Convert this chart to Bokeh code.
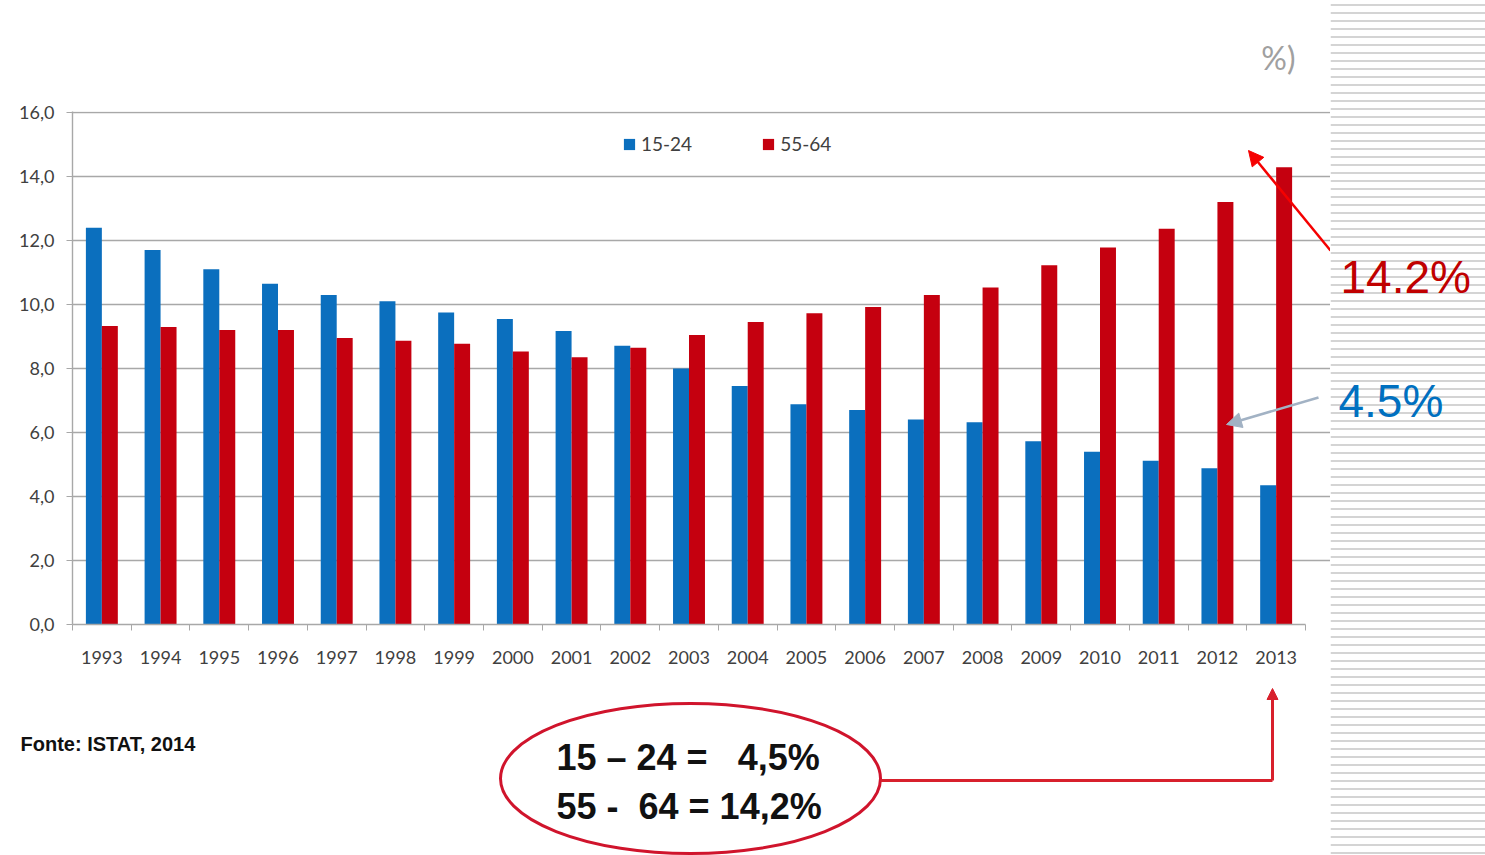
from bokeh.plotting import figure
from bokeh.models import (Range1d, FixedTicker, LinearAxis, Legend, LegendItem,
                          Label, Arrow, NormalHead, ColumnDataSource)
from bokeh.layouts import row, column
from bokeh.transform import dodge
from bokeh.embed import file_html
from bokeh.resources import INLINE

# ---------------- data ----------------
years = ["1993", "1994", "1995", "1996", "1997", "1998", "1999", "2000", "2001", "2002",
         "2003", "2004", "2005", "2006", "2007", "2008", "2009", "2010", "2011", "2012", "2013"]
age_15_24 = [12.4, 11.7, 11.1, 10.65, 10.3, 10.1, 9.75, 9.55, 9.17, 8.71,
             8.0, 7.45, 6.88, 6.7, 6.41, 6.32, 5.73, 5.4, 5.12, 4.88, 4.35]
age_55_64 = [9.33, 9.3, 9.2, 9.2, 8.95, 8.87, 8.77, 8.53, 8.35, 8.65,
             9.05, 9.45, 9.73, 9.92, 10.3, 10.53, 11.23, 11.78, 12.37, 13.2, 14.29]
series_labels = ["15-24", "55-64"]
y_ticks = [0, 2, 4, 6, 8, 10, 12, 14, 16]
y_tick_labels = ["0,0", "2,0", "4,0", "6,0", "8,0", "10,0", "12,0", "14,0", "16,0"]
source_text = "Fonte: ISTAT, 2014"
box_lines = ["15 \u2013 24 =\u00a0\u00a0 4,5%", "55 -\u00a0 64 = 14,2%"]
callout_red = "14.2%"
callout_blue = "4.5%"
corner_text = "%)"

BLUE = "#0b6fbe"
RED = "#c5000f"
GRID = "#a8a8a8"
TXT = "#404040"
AXFONT = "Lato"
SANS = "Liberation Sans"
STRIPE = "#d4d4d4"

# page geometry (pixels)
W, H = 1485, 855
TOP_H = 680
FRAME_L, FRAME_R_DATA, FRAME_R, STRIPE_L = 72, 1305, 1330, 1330
FRAME_T, FRAME_B = 111, 624
band = (FRAME_R_DATA - FRAME_L) / len(years)
x_end = len(years) - 0.5 + (FRAME_R - FRAME_R_DATA) / band

# ---------------- main chart ----------------
p = figure(width=STRIPE_L, height=TOP_H,
           x_range=Range1d(-0.5, x_end), y_range=Range1d(0, 16 + 1 / 32),
           output_backend="svg", toolbar_location=None, x_axis_location=None,
           min_border_left=FRAME_L, min_border_right=STRIPE_L - FRAME_R,
           min_border_top=FRAME_T, min_border_bottom=TOP_H - FRAME_B)
p.outline_line_color = None
p.extra_x_ranges = {"px": Range1d(FRAME_L, FRAME_R)}
p.extra_y_ranges = {"py": Range1d(FRAME_B, FRAME_T)}

src = ColumnDataSource(dict(i=list(range(len(years))), a=age_15_24, b=age_55_64))
w = 0.272
rb = p.vbar(x=dodge("i", -w / 2), top="a", width=w, source=src, fill_color=BLUE, line_color=None)
rr = p.vbar(x=dodge("i", w / 2), top="b", width=w, source=src, fill_color=RED, line_color=None)

# y axis
ya = p.yaxis[0]
ya.ticker = FixedTicker(ticks=y_ticks)
ya.major_label_overrides = {t: l for t, l in zip(y_ticks, y_tick_labels)}
ya.axis_line_color = GRID
ya.axis_line_width = 1.4
ya.major_tick_line_color = GRID
ya.major_tick_out = 6
ya.major_tick_in = 0
ya.minor_tick_line_color = None
ya.major_label_standoff = 12
ya.major_label_text_font = AXFONT
ya.major_label_text_font_size = "18px"
ya.major_label_text_color = TXT

for g in p.grid:
    if g.dimension == 0:
        g.visible = False
    else:
        g.grid_line_color = GRID
        g.grid_line_width = 1.4
        g.bounds = (-0.5, len(years) - 0.5)

# x axis: labels at category centres, ticks at boundaries
xa = LinearAxis(ticker=FixedTicker(ticks=list(range(len(years))),
                                   minor_ticks=[k - 0.5 for k in range(len(years) + 1)]),
                bounds=(-0.5, len(years) - 0.5))
xa.major_label_overrides = {k: y for k, y in enumerate(years)}
xa.major_tick_line_color = None
xa.major_tick_out = 0
xa.major_tick_in = 0
xa.minor_tick_out = 6
xa.minor_tick_in = 0
xa.minor_tick_line_color = GRID
xa.axis_line_color = GRID
xa.axis_line_width = 1.4
xa.major_label_standoff = 20
xa.major_label_text_font = AXFONT
xa.major_label_text_font_size = "18px"
xa.major_label_text_color = TXT
p.add_layout(xa, "below")

leg = Legend(items=[LegendItem(label=series_labels[0], renderers=[rb]),
                    LegendItem(label=series_labels[1], renderers=[rr])],
             orientation="horizontal", location=(550, 469), glyph_width=14, glyph_height=14,
             label_standoff=5, spacing=69, padding=0, margin=0, border_line_color=None,
             background_fill_alpha=0, label_text_font=AXFONT, label_text_font_size="19px",
             label_text_color=TXT)
p.add_layout(leg)

p.title.text = corner_text
p.title.align = "right"
p.title.offset = 35
p.title.standoff = 70
p.title.text_font = AXFONT
p.title.text_font_style = "normal"
p.title.text_font_size = "32px"
p.title.text_color = "#a0a0a0"

p.add_layout(Arrow(x_start=1330, y_start=250, x_end=1248, y_end=150,
                   x_range_name="px", y_range_name="py", line_color="#f50000", line_width=2.5,
                   end=NormalHead(size=15, fill_color="#f50000", line_color="#f50000")))
p.add_layout(Arrow(x_start=1318, y_start=397, x_end=1226, y_end=424,
                   x_range_name="px", y_range_name="py", line_color="#a2b2c4", line_width=2.5,
                   end=NormalHead(size=15, fill_color="#a2b2c4", line_color="#a2b2c4")))

# ---------------- bottom area ----------------
b = figure(width=STRIPE_L, height=H - TOP_H, x_range=Range1d(0, STRIPE_L),
           y_range=Range1d(H, TOP_H), output_backend="svg", toolbar_location=None,
           x_axis_location=None, y_axis_location=None, min_border=0)
b.outline_line_color = None
b.grid.visible = False
b.add_layout(Label(x=20, y=743, text=source_text, text_baseline="middle", text_font=SANS,
                   text_font_style="bold", text_font_size="20px", text_color="#111111"))
b.ellipse(x=[690], y=[778], width=[380], height=[150], fill_color=None,
          line_color="#d0142c", line_width=3)
b.add_layout(Label(x=556, y=757, text=box_lines[0], text_baseline="middle", text_font=SANS,
                   text_font_style="bold", text_font_size="36px", text_color="#111111"))
b.add_layout(Label(x=556, y=806, text=box_lines[1], text_baseline="middle", text_font=SANS,
                   text_font_style="bold", text_font_size="36px", text_color="#111111"))
b.add_layout(Arrow(x_start=880, y_start=780, x_end=1272, y_end=780, end=None,
                   line_color="#d8202c", line_width=3))
b.add_layout(Arrow(x_start=1272, y_start=780, x_end=1272, y_end=688, line_color="#d8202c",
                   line_width=3, end=NormalHead(size=11, fill_color="#d8202c", line_color="#d8202c")))

# ---------------- striped side panel (full height) ----------------
s = figure(width=W - STRIPE_L, height=H, x_range=Range1d(STRIPE_L, W),
           y_range=Range1d(H, 0), output_backend="svg", toolbar_location=None,
           x_axis_location=None, y_axis_location=None, min_border=0)
s.outline_line_color = None
s.grid.visible = False
s.quad(left=[STRIPE_L], right=[W], top=[0], bottom=[H], fill_color=None, line_color=None,
       hatch_pattern="horizontal_line", hatch_scale=8, hatch_weight=2, hatch_color=STRIPE)
s.add_layout(Label(x=1340, y=276, text=callout_red, text_baseline="middle", text_font=SANS,
                   text_font_size="46px", text_color="#c00000"))
s.add_layout(Label(x=1338, y=400, text=callout_blue, text_baseline="middle", text_font=SANS,
                   text_font_size="46px", text_color="#0070c0"))

layout = row(column(p, row(b)), s)
open("out.html", "w").write(file_html(layout, INLINE))
